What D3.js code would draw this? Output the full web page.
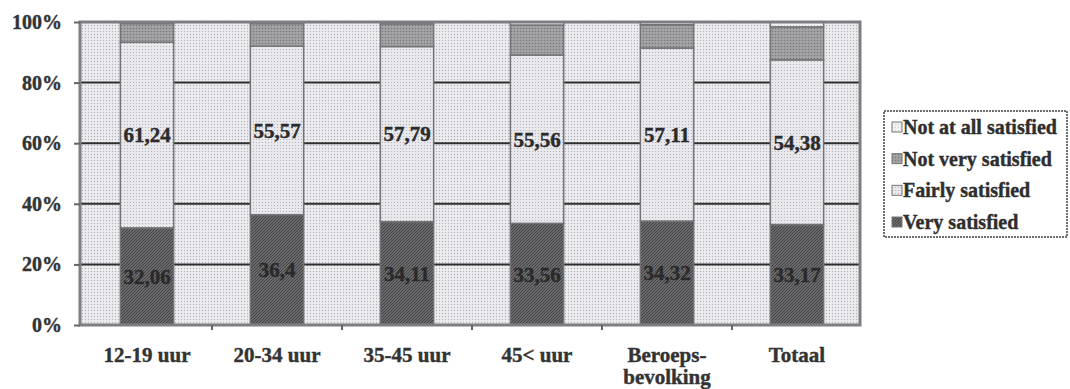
<html>
<head>
<script src="https://d3js.org/d3.v7.min.js"></script>
<style>
    body { margin: 0; background: #fff; }
    text { font-family: "Liberation Serif", "Times New Roman", serif; font-weight: bold; fill: #2b2b2b; stroke-width: 0.4px; }
    .grid { stroke: #2e2e2e; stroke-width: 2px; }
    .axis path, .axis line { stroke: #666; stroke-width: 2px; }
    .axis text { font-size: 20px; fill: #333; stroke: #333; }
</style>
</head>
<body>
<svg id="chart" width="1070" height="389"></svg>
<script>
    // categories and values (percent)
    const categories = ["12-19 uur", "20-34 uur", "35-45 uur", "45< uur", "Beroeps-\nbevolking", "Totaal"];
    const verySatisfied = [32.06, 36.4, 34.11, 33.56, 34.32, 33.17];
    const fairlySatisfied = [61.24, 55.57, 57.79, 55.56, 57.11, 54.38];
    const notVerySatisfied = [6.2, 7.5, 7.5, 9.9, 7.7, 10.9];
    const notAtAllSatisfied = [0.5, 0.5, 0.6, 1.0, 0.9, 1.6];
    const yTicks = [0, 0.2, 0.4, 0.6, 0.8, 1];
    const seriesNames = ["Very satisfied", "Fairly satisfied", "Not very satisfied", "Not at all satisfied"];

    const svg = d3.select("#chart");
    const plot = { left: 80, right: 860, top: 22, bottom: 325 };

    //build the rows for d3.stack
    const rows = categories.map((c, i) => ({
        cat: c,
        "Very satisfied": verySatisfied[i],
        "Fairly satisfied": fairlySatisfied[i],
        "Not very satisfied": notVerySatisfied[i],
        "Not at all satisfied": notAtAllSatisfied[i]
    }));

    //patterns to imitate the scanned textures
    const defs = svg.append("defs");
    function dotPattern(id, bg, dot, size, r) {
        const p = defs.append("pattern").attr("id", id).attr("patternUnits", "userSpaceOnUse")
            .attr("width", size).attr("height", size);
        p.append("rect").attr("width", size).attr("height", size).attr("fill", bg);
        p.append("circle").attr("cx", size / 2).attr("cy", size / 2).attr("r", r).attr("fill", dot);
    }
    dotPattern("bgPat", "#ececf0", "#b0b0b8", 3, 0.65);
    dotPattern("fairlyPat", "#e8e8ed", "#acacb4", 3, 0.6);
    dotPattern("notAtAllPat", "#f0f0f3", "#c2c2c8", 3, 0.5);
    dotPattern("notVeryPat", "#a4a4a6", "#78787c", 3, 0.8);
    const hatch = defs.append("pattern").attr("id", "veryPat").attr("patternUnits", "userSpaceOnUse")
        .attr("width", 3).attr("height", 3);
    hatch.append("rect").attr("width", 3).attr("height", 3).attr("fill", "#6a6a6c");
    hatch.append("path").attr("d", "M0,3 L3,0 M-1,1 L1,-1 M2,4 L4,2").attr("stroke", "#434345").attr("stroke-width", 1);

    const fills = {
        "Very satisfied": "url(#veryPat)",
        "Fairly satisfied": "url(#fairlyPat)",
        "Not very satisfied": "url(#notVeryPat)",
        "Not at all satisfied": "url(#notAtAllPat)"
    };

    const x = d3.scaleBand().domain(categories).range([plot.left + 2, plot.right + 2])
        .paddingInner(0.59).paddingOuter(0.295);
    const y = d3.scaleLinear().domain([0, 1]).range([plot.bottom, plot.top]);

    //plot background
    svg.append("rect")
        .attr("x", plot.left).attr("y", plot.top)
        .attr("width", plot.right - plot.left).attr("height", plot.bottom - plot.top)
        .attr("fill", "url(#bgPat)");

    //gridlines
    svg.selectAll("line.grid").data(yTicks.filter(d => d > 0 && d < 1))
        .join("line")
        .attr("class", "grid")
        .attr("x1", plot.left).attr("x2", plot.right)
        .attr("y1", d => y(d)).attr("y2", d => y(d));

    //stacked bars
    const stack = d3.stack().keys(seriesNames).offset(d3.stackOffsetExpand);
    const series = stack(rows);

    svg.selectAll("g.series").data(series)
        .join("g")
        .attr("class", "series")
        .attr("fill", d => fills[d.key])
        .selectAll("rect").data(d => d)
        .join("rect")
        .attr("x", d => x(d.data.cat))
        .attr("width", x.bandwidth())
        .attr("y", d => y(d[1]))
        .attr("height", d => y(d[0]) - y(d[1]))
        .attr("stroke", "#737377")
        .attr("stroke-width", 1.5);

    //value labels for the two biggest series
    series.filter(s => s.key === "Very satisfied" || s.key === "Fairly satisfied").forEach(s => {
        const col = s.key === "Very satisfied" ? "#2a2a2c" : "#2b2b2b";
        svg.selectAll(null).data(s)
            .join("text")
            .attr("x", d => x(d.data.cat) + x.bandwidth() / 2)
            .attr("y", d => y((d[0] + d[1]) / 2))
            .attr("dy", "0.35em")
            .attr("text-anchor", "middle")
            .style("font-size", "21px")
            .style("fill", col).style("stroke", col)
            .text(d => String(d.data[s.key]).replace(".", ","));
    });

    //frame
    svg.append("rect")
        .attr("x", plot.left).attr("y", plot.top)
        .attr("width", plot.right - plot.left).attr("height", plot.bottom - plot.top)
        .attr("fill", "none").attr("stroke", "#7e7e82").attr("stroke-width", 3);

    //y axis
    const yAxis = svg.append("g").attr("class", "axis")
        .attr("transform", "translate(" + plot.left + ",0)")
        .call(d3.axisLeft(y).tickValues(yTicks).tickFormat(d3.format(".0%")).tickSize(6).tickPadding(12));
    yAxis.select(".domain").remove();

    //x axis ticks between categories
    const boundaries = categories.slice(1).map(c => x(c) - x.step() * x.paddingInner() / 2);
    svg.selectAll("line.xtick").data(boundaries)
        .join("line")
        .attr("class", "xtick")
        .attr("x1", d => d).attr("x2", d => d)
        .attr("y1", plot.bottom).attr("y2", plot.bottom + 5)
        .attr("stroke", "#666").attr("stroke-width", 2);

    //x labels (may be two lines)
    svg.selectAll("text.xlab").data(categories)
        .join("text")
        .attr("class", "xlab")
        .attr("text-anchor", "middle")
        .style("font-size", "21px")
        .style("fill", "#333").style("stroke", "#333")
        .each(function (d) {
            const lines = d.split("\n");
            d3.select(this).selectAll("tspan").data(lines)
                .join("tspan")
                .attr("x", x(d) + x.bandwidth() / 2)
                .attr("y", (l, i) => 362 + i * 22)
                .text(l => l);
        });

    //legend
    const legend = svg.append("g");
    legend.append("rect")
        .attr("x", 884).attr("y", 111).attr("width", 183).attr("height", 126)
        .attr("fill", "#fff").attr("stroke", "#6e6e72").attr("stroke-width", 2)
        .attr("stroke-dasharray", "2 1");
    const legendOrder = seriesNames.slice().reverse();
    const ly = d3.scalePoint().domain(legendOrder).range([127, 222]);
    legend.selectAll("rect.sw").data(legendOrder)
        .join("rect")
        .attr("class", "sw")
        .attr("x", 892).attr("y", d => ly(d) - 5)
        .attr("width", 10).attr("height", 10)
        .attr("fill", d => fills[d]).attr("stroke", "#777").attr("stroke-width", 1);
    legend.selectAll("text.lt").data(legendOrder)
        .join("text")
        .attr("class", "lt")
        .attr("x", 903).attr("y", d => ly(d))
        .attr("dy", "0.35em")
        .style("font-size", "20px")
        .style("fill", "#2e2e2e").style("stroke", "#2e2e2e")
        .text(d => d);
</script>
</body>
</html>
